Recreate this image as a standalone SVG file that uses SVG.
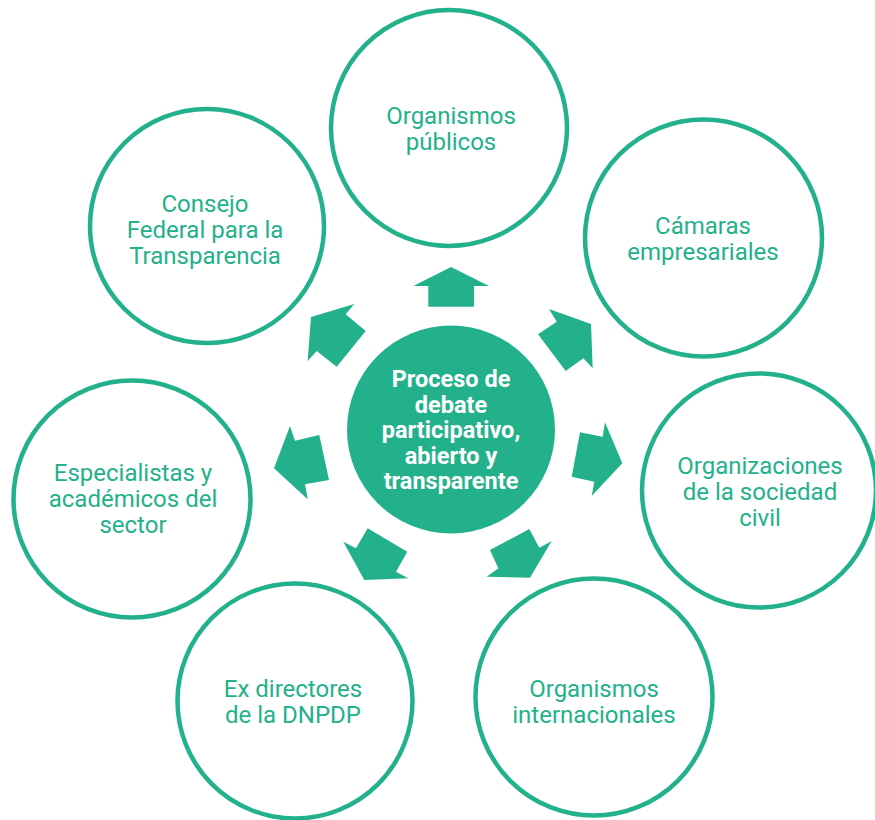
<svg xmlns="http://www.w3.org/2000/svg" width="875" height="820" viewBox="0 0 875 820">
<style>
.ring{fill:#ffffff;stroke:#23B18B;stroke-width:4.5}
.hub{fill:#23B18B}
.lbl{font-family:Roboto,"Liberation Sans",sans-serif;font-size:24px;fill:#23B18B;text-anchor:middle}
.hubt{font-family:Roboto,"Liberation Sans",sans-serif;font-size:23.5px;font-weight:700;fill:#ffffff;text-anchor:middle}
.arr{fill:#23B18B}
</style>
<rect width="875" height="820" fill="#ffffff"/>
<g id="connectors">
<polygon class="arr" points="451,267 489,286 474,286 474,306.7 428.3,306.7 428.3,286 413.3,286"/>
<polygon class="arr" points="591,324 549,309 556.7,321.7 538,334.3 565.7,371 583.3,358.3 592.7,368.3"/>
<polygon class="arr" points="622.3,463.3 605,422.3 602.7,436.7 580,432.3 571.7,476.7 594.3,481.7 591.7,496"/>
<polygon class="arr" points="530,577.7 551.7,541 539.3,547.7 529.3,529 490,550 498.3,568.3 486.7,576.7"/>
<polygon class="arr" points="364.3,580 408.3,578.3 396,571.7 407.3,551.7 367.7,528.3 356,548.3 343.3,541.7"/>
<polygon class="arr" points="274,468.3 307.7,499.3 305,484.3 329,480 319.3,435 295,440.7 290,426"/>
<polygon class="arr" points="311,317 307.7,361 316.7,351 336.7,366.7 365.7,331 345.7,314.3 354.3,304"/>
</g>
<g id="hub">
<circle class="hub" cx="451" cy="429.5" r="104"/>
<text class="hubt" x="451" y="387">Proceso de</text>
<text class="hubt" x="451" y="412.5">debate</text>
<text class="hubt" x="451" y="438">participativo,</text>
<text class="hubt" x="451" y="463.5">abierto y</text>
<text class="hubt" x="451" y="489">transparente</text>
</g>
<g id="organismos-publicos">
<circle class="ring" cx="449" cy="128" r="118"/>
<text class="lbl" x="451" y="124">Organismos</text>
<text class="lbl" x="451" y="150">públicos</text>
</g>
<g id="camaras-empresariales">
<circle class="ring" cx="703.5" cy="238" r="118.5"/>
<text class="lbl" x="703" y="234">Cámaras</text>
<text class="lbl" x="703" y="260">empresariales</text>
</g>
<g id="organizaciones-sociedad-civil">
<circle class="ring" cx="759" cy="490.5" r="117"/>
<text class="lbl" x="760" y="474">Organizaciones</text>
<text class="lbl" x="760" y="500">de la sociedad</text>
<text class="lbl" x="760" y="526">civil</text>
</g>
<g id="organismos-internacionales">
<circle class="ring" cx="594" cy="697" r="118.5"/>
<text class="lbl" x="594" y="697">Organismos</text>
<text class="lbl" x="594" y="723">internacionales</text>
</g>
<g id="ex-directores">
<circle class="ring" cx="295" cy="701" r="117.5"/>
<text class="lbl" x="293" y="697">Ex directores</text>
<text class="lbl" x="293" y="723">de la DNPDP</text>
</g>
<g id="especialistas">
<circle class="ring" cx="132" cy="499" r="118.5"/>
<text class="lbl" x="133" y="481">Especialistas y</text>
<text class="lbl" x="133" y="507">académicos del</text>
<text class="lbl" x="133" y="533">sector</text>
</g>
<g id="consejo-federal">
<circle class="ring" cx="207" cy="226" r="117"/>
<text class="lbl" x="205" y="212">Consejo</text>
<text class="lbl" x="205" y="238">Federal para la</text>
<text class="lbl" x="205" y="264">Transparencia</text>
</g>
</svg>
